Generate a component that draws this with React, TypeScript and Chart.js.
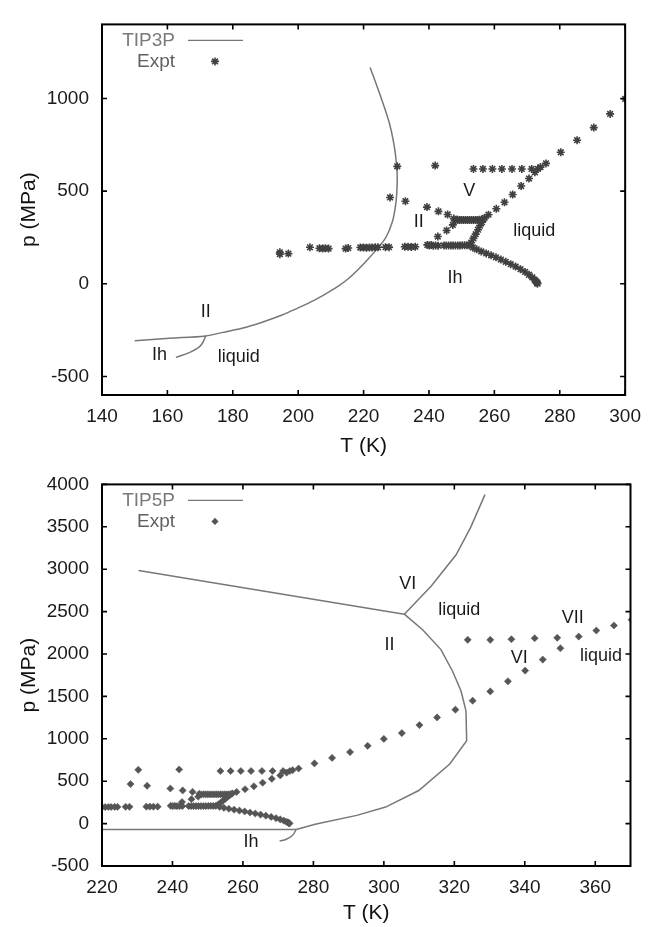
import React, { useEffect, useRef } from "react";
import { Chart, registerables } from "chart.js";

Chart.register(...registerables);

const FONT = '"Liberation Sans", Arial, Helvetica, sans-serif';
Chart.defaults.font.family = FONT;

// ---------- Experimental coexistence points (T in K, p in MPa) ----------
const exptT = [
  194.4, 194.4, 197.0, 203.6, 206.5, 207.5, 208.3, 209.3, 214.5, 215.3,
  219.0, 220.0, 220.9, 221.8, 222.6, 223.6, 224.4, 226.7, 227.8,
  232.6, 233.6, 234.6, 235.8,
  239.5, 240.1, 240.7, 241.3, 242.0, 242.8,
  244.6, 245.3, 246.0, 246.7, 247.4, 248.1, 248.8, 249.5, 250.2, 250.9, 251.6, 252.3,
  242.7, 245.4, 247.3,
  247.6, 248.2, 248.8, 249.4, 250.0, 250.6, 251.2, 251.8, 252.4, 253.0, 253.6, 254.2, 254.8, 255.4, 256.0, 256.6,
  252.9, 253.6, 254.3, 255.0, 255.6, 256.2,
  253.4, 254.6, 256.0, 257.5, 259.0, 260.5, 262.0, 263.5, 265.0, 266.5, 268.0, 269.4, 270.6, 271.6, 272.3, 272.7, 273.0, 273.1, 273.2,
  228.1, 232.8, 239.4, 242.9, 245.7,
  230.3, 241.9,
  253.6, 256.5, 259.4, 262.3, 265.4, 268.4, 271.4,
  257.0, 258.2, 260.6, 263.1, 265.6, 268.2, 270.6, 272.4, 273.3, 274.1, 275.8,
  280.3, 285.3, 290.4, 295.4, 300.0, 305.1, 310.1, 315.1, 320.3, 325.2, 330.2, 335.2, 340.1, 345.1, 350.1,
  323.8, 330.2, 336.2, 342.8, 349.2, 355.3,
  360.3, 365.3, 370.3,
];
const exptP = [
  170, 160, 163, 197, 192, 190, 192, 190, 190, 193,
  196, 196, 195, 196, 196, 197, 197, 198, 198,
  200, 200, 199, 200,
  210, 207, 209, 206, 207, 206,
  207, 207, 207, 207, 207, 207, 207, 207, 208, 208, 208, 208,
  255, 288, 318,
  352, 343, 346, 345, 345, 345, 345, 345, 345, 345, 345, 345, 345, 346, 346, 347,
  222, 245, 268, 292, 314, 333,
  196, 186, 175, 164, 154, 143, 131, 119, 106, 93, 79, 64, 49, 35, 22, 14, 8, 4, 1,
  466, 446, 414, 391, 374,
  634, 638,
  620, 620, 620, 620, 620, 620, 620,
  356, 373, 405, 440, 482, 528, 568, 602, 620, 630, 650,
  710, 775, 843, 917, 998, 1067, 1162, 1252, 1343, 1449, 1559, 1678, 1804, 1934, 2068,
  2167, 2167, 2174, 2186, 2191, 2206,
  2277, 2336, 2403,
];

// ---------- TIP3P simulated boundaries ----------
const tip3pMainT = [150.0, 160.6, 171.7, 177.0, 182.8, 189.0, 194.9, 200.0, 205.0, 209.0, 212.5, 215.5, 218.5, 221.2, 224.2, 226.8, 228.8, 229.9, 230.3, 230.1, 229.3, 227.8, 225.2, 222.0];
const tip3pMainP = [-307, -294, -281, -262, -240, -207, -170, -130, -88, -48, -10, 30, 80, 130, 190, 250, 335, 440, 560, 640, 752, 873, 1012, 1168];
const tip3pBranchT = [171.7, 170.8, 169.6, 166.7, 162.6];
const tip3pBranchP = [-281, -318, -343, -371, -397];

// ---------- TIP5P simulated boundaries ----------
const tip5pIIVIT = [230.4, 305.8];
const tip5pIIVIP = [2986, 2470];
const tip5pVILT = [305.8, 313.4, 320.5, 324.6, 328.7];
const tip5pVILP = [2470, 2800, 3170, 3490, 3880];
const tip5pIILT = [305.8, 311.0, 316.2, 319.5, 321.9, 323.3, 323.5, 318.7, 309.9, 300.5, 292.3, 280.5, 275.1];
const tip5pIILP = [2470, 2286, 2052, 1797, 1563, 1329, 977, 703, 390, 195, 97, -8, -70];
const tip5pIhIIT = [220.0, 275.1];
const tip5pIhIIP = [-70, -70];
const tip5pIhLT = [275.1, 274.1, 272.3, 270.4];
const tip5pIhLP = [-70, -137, -184, -207];

// ---------- ticks ----------
const topXTicks = [140, 160, 180, 200, 220, 240, 260, 280, 300];
const topYTicks = [-500, 0, 500, 1000];
const botXTicks = [220, 240, 260, 280, 300, 320, 340, 360];
const botYTicks = [-500, 0, 500, 1000, 1500, 2000, 2500, 3000, 3500, 4000];

// ---------- phase labels ----------
const topLabels = [
  { text: "II", T: 171.7, p: -151 },
  { text: "Ih", T: 157.6, p: -385 },
  { text: "liquid", T: 181.8, p: -394 },
  { text: "V", T: 252.3, p: 500 },
  { text: "II", T: 236.9, p: 335 },
  { text: "liquid", T: 272.2, p: 283 },
  { text: "Ih", T: 248.0, p: 31 },
];
const botLabels = [
  { text: "VI", T: 306.8, p: 2821 },
  { text: "liquid", T: 321.4, p: 2520 },
  { text: "VII", T: 353.6, p: 2430 },
  { text: "VI", T: 338.4, p: 1953 },
  { text: "liquid", T: 361.6, p: 1973 },
  { text: "II", T: 301.6, p: 2102 },
  { text: "Ih", T: 262.3, p: -216 },
];

const LINE_COLOR = "#777777";

function pts(ts: number[], ps: number[]) {
  return ts.map((t, i) => ({ x: t, y: ps[i] }));
}

function drawMarker(ctx: CanvasRenderingContext2D, style: string, x: number, y: number, r: number, color: string) {
  ctx.save();
  if (style === "star") {
    ctx.strokeStyle = color;
    ctx.lineWidth = 1.6;
    ctx.beginPath();
    for (let k = 0; k < 4; k++) {
      const ang = (k * Math.PI) / 4;
      ctx.moveTo(x - r * Math.cos(ang), y - r * Math.sin(ang));
      ctx.lineTo(x + r * Math.cos(ang), y + r * Math.sin(ang));
    }
    ctx.stroke();
  } else {
    ctx.fillStyle = color;
    ctx.beginPath();
    ctx.moveTo(x, y - r);
    ctx.lineTo(x + r, y);
    ctx.lineTo(x, y + r);
    ctx.lineTo(x - r, y);
    ctx.closePath();
    ctx.fill();
  }
  ctx.restore();
}

const framePlugin = {
  id: "frame",
  afterDatasetsDraw(chart: any, _args: any, opts: any) {
    const { ctx, chartArea: a, scales } = chart;
    const xs = scales.x;
    const ys = scales.y;
    ctx.save();
    // phase labels
    ctx.fillStyle = "#1a1a1a";
    ctx.font = `18px ${FONT}`;
    ctx.textAlign = "center";
    ctx.textBaseline = "middle";
    for (const l of opts.labels) {
      ctx.fillText(l.text, xs.getPixelForValue(l.T), ys.getPixelForValue(l.p));
    }
    // legend
    const tx = a.left + 73;
    const y1 = a.top + 16;
    const y2 = a.top + 37;
    ctx.font = `19px ${FONT}`;
    ctx.textAlign = "right";
    ctx.fillStyle = "#7a7a7a";
    ctx.fillText(opts.legendName, tx, y1);
    ctx.fillStyle = "#606060";
    ctx.fillText("Expt", tx, y2);
    ctx.strokeStyle = LINE_COLOR;
    ctx.lineWidth = 1.4;
    ctx.beginPath();
    ctx.moveTo(a.left + 86, y1);
    ctx.lineTo(a.left + 141, y1);
    ctx.stroke();
    drawMarker(ctx, opts.markerStyle, a.left + 113, y2, opts.markerRadius, opts.markerColor);
    // border
    ctx.strokeStyle = "#000";
    ctx.lineWidth = 2;
    ctx.strokeRect(a.left, a.top, a.right - a.left, a.bottom - a.top);
    // inward ticks on all four sides
    ctx.lineWidth = 1.6;
    ctx.beginPath();
    for (const v of opts.xTicks) {
      const px = xs.getPixelForValue(v);
      ctx.moveTo(px, a.bottom);
      ctx.lineTo(px, a.bottom - 5);
      ctx.moveTo(px, a.top);
      ctx.lineTo(px, a.top + 5);
    }
    for (const v of opts.yTicks) {
      const py = ys.getPixelForValue(v);
      ctx.moveTo(a.left, py);
      ctx.lineTo(a.left + 5, py);
      ctx.moveTo(a.right, py);
      ctx.lineTo(a.right - 5, py);
    }
    ctx.stroke();
    ctx.restore();
  },
};

type Spec = {
  height: number;
  xMin: number;
  xMax: number;
  yMin: number;
  yMax: number;
  xTicks: number[];
  yTicks: number[];
  padTop: number;
  xAxisH: number;
  lines: { T: number[]; p: number[]; tension: number }[];
  markerStyle: string;
  markerColor: string;
  markerRadius: number;
  markerBorder: number;
  legendName: string;
  labels: { text: string; T: number; p: number }[];
};

function buildConfig(s: Spec): any {
  const datasets: any[] = [
    {
      label: "Expt",
      data: pts(exptT, exptP),
      showLine: false,
      pointStyle: s.markerStyle,
      pointRadius: s.markerRadius,
      pointBorderWidth: s.markerBorder,
      pointBorderColor: s.markerColor,
      pointBackgroundColor: s.markerColor,
    },
  ];
  for (const l of s.lines) {
    datasets.push({
      label: s.legendName,
      data: pts(l.T, l.p),
      showLine: true,
      pointRadius: 0,
      borderColor: LINE_COLOR,
      borderWidth: 1.5,
      tension: l.tension,
      fill: false,
    });
  }
  const tickFont = { size: 19, family: FONT };
  return {
    type: "scatter",
    data: { datasets },
    options: {
      animation: false,
      responsive: false,
      events: [],
      layout: { padding: { top: s.padTop, right: 20.5, left: 0, bottom: 0 } },
      plugins: {
        legend: { display: false },
        tooltip: { enabled: false },
        frame: {
          labels: s.labels,
          legendName: s.legendName,
          markerStyle: s.markerStyle,
          markerColor: s.markerColor,
          markerRadius: s.markerRadius,
          xTicks: s.xTicks,
          yTicks: s.yTicks,
        },
      },
      scales: {
        x: {
          type: "linear",
          min: s.xMin,
          max: s.xMax,
          afterBuildTicks: (sc: any) => {
            sc.ticks = s.xTicks.map((v) => ({ value: v }));
          },
          afterFit: (sc: any) => {
            sc.height = s.xAxisH;
          },
          grid: { display: false, drawTicks: false },
          border: { display: false },
          ticks: {
            font: tickFont,
            color: "#1a1a1a",
            padding: 10,
            maxRotation: 0,
            autoSkip: false,
            callback: (v: any) => String(v),
          },
          title: {
            display: true,
            text: "T (K)",
            color: "#111",
            font: { size: 21, family: FONT },
            padding: { top: 0, bottom: 1 },
          },
        },
        y: {
          type: "linear",
          min: s.yMin,
          max: s.yMax,
          afterBuildTicks: (sc: any) => {
            sc.ticks = s.yTicks.map((v) => ({ value: v }));
          },
          afterFit: (sc: any) => {
            sc.width = 102;
          },
          grid: { display: false, drawTicks: false },
          border: { display: false },
          ticks: {
            font: tickFont,
            color: "#1a1a1a",
            padding: 13,
            autoSkip: false,
            callback: (v: any) => String(v),
          },
          title: {
            display: true,
            text: "p (MPa)",
            color: "#111",
            font: { size: 21, family: FONT },
            padding: { top: 17, bottom: 0 },
          },
        },
      },
    },
    plugins: [framePlugin],
  };
}

const topSpec: Spec = {
  height: 460,
  xMin: 140,
  xMax: 300,
  yMin: -600,
  yMax: 1400,
  xTicks: topXTicks,
  yTicks: topYTicks,
  padTop: 13,
  xAxisH: 65,
  lines: [
    { T: tip3pMainT, p: tip3pMainP, tension: 0.35 },
    { T: tip3pBranchT, p: tip3pBranchP, tension: 0.35 },
  ],
  markerStyle: "star",
  markerColor: "#404040",
  markerRadius: 4,
  markerBorder: 1.6,
  legendName: "TIP3P",
  labels: topLabels,
};

const botSpec: Spec = {
  height: 467,
  xMin: 220,
  xMax: 370,
  yMin: -500,
  yMax: 4000,
  xTicks: botXTicks,
  yTicks: botYTicks,
  padTop: 24,
  xAxisH: 61,
  lines: [
    { T: tip5pIIVIT, p: tip5pIIVIP, tension: 0 },
    { T: tip5pVILT, p: tip5pVILP, tension: 0 },
    { T: tip5pIILT, p: tip5pIILP, tension: 0 },
    { T: tip5pIhIIT, p: tip5pIhIIP, tension: 0 },
    { T: tip5pIhLT, p: tip5pIhLP, tension: 0.4 },
  ],
  markerStyle: "rectRot",
  markerColor: "#555555",
  markerRadius: 3.6,
  markerBorder: 0.5,
  legendName: "TIP5P",
  labels: botLabels,
};

function PhaseChart({ spec, top }: { spec: Spec; top: number }) {
  const ref = useRef<HTMLCanvasElement>(null);
  useEffect(() => {
    const chart = new Chart(ref.current as HTMLCanvasElement, buildConfig(spec));
    return () => chart.destroy();
  }, [spec]);
  return (
    <canvas
      ref={ref}
      width={651}
      height={spec.height}
      style={{ position: "absolute", left: 0, top, width: 651, height: spec.height }}
    />
  );
}

export default function App() {
  return (
    <div style={{ position: "absolute", left: 0, top: 0, width: 651, height: 927, background: "#fff" }}>
      <PhaseChart spec={topSpec} top={0} />
      <PhaseChart spec={botSpec} top={460} />
    </div>
  );
}
